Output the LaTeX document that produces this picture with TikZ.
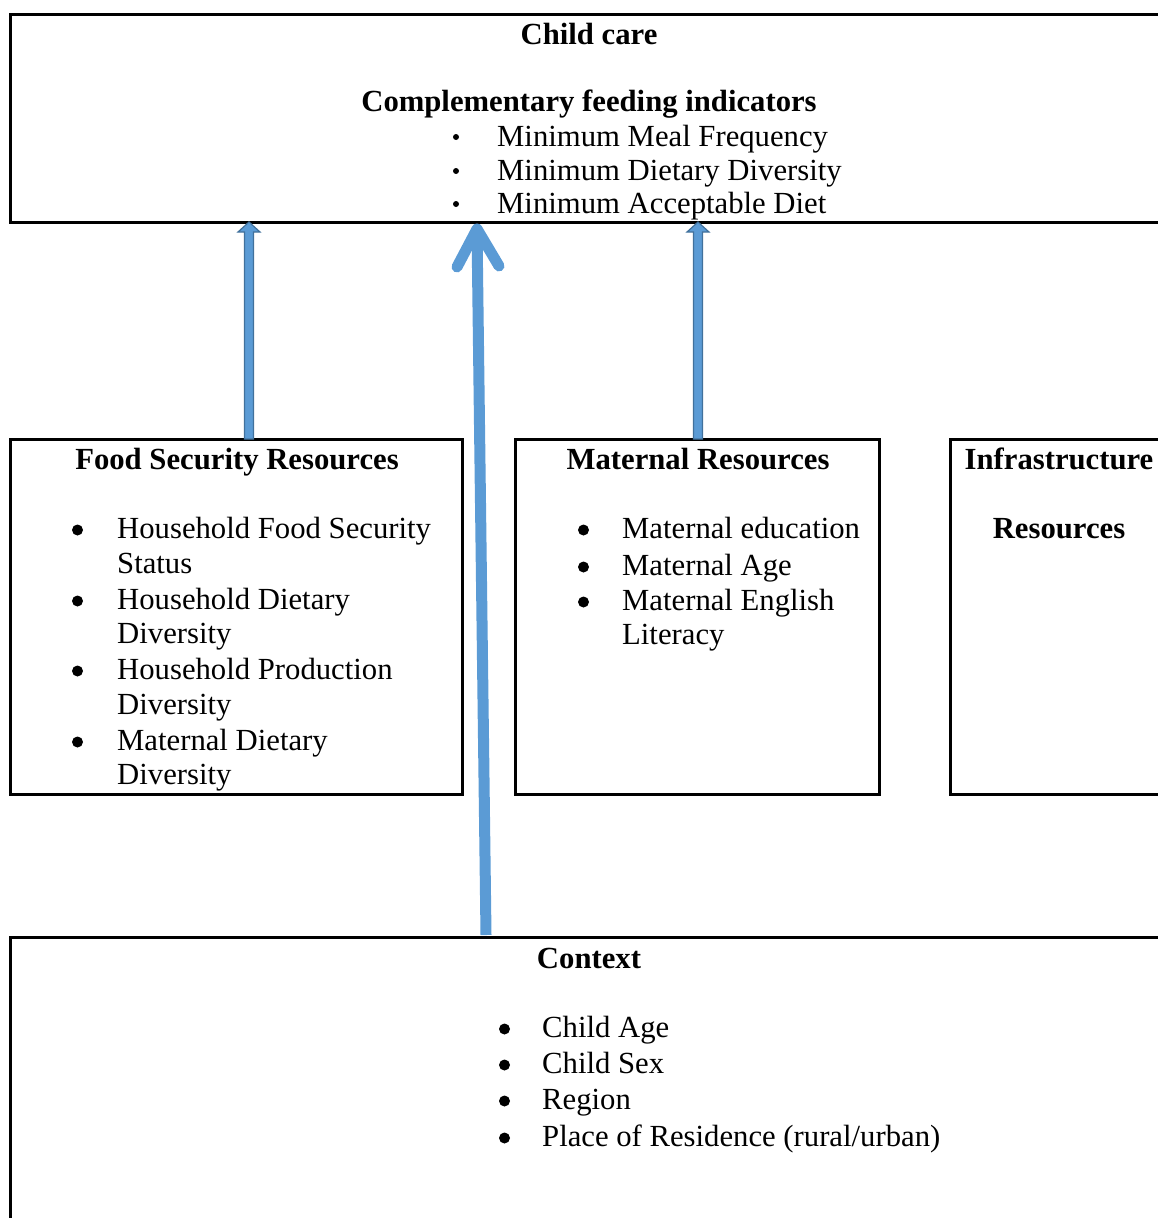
\documentclass[tikz,border=0pt]{standalone}
\usepackage{fontspec}
\setmainfont{Liberation Serif}
\usetikzlibrary{calc}
\definecolor{arrowblue}{HTML}{5B9BD5}
\definecolor{arrowedge}{HTML}{41719C}
\begin{document}
\begin{tikzpicture}[x=1pt,y=-1pt,
  box/.style={draw=black, line width=3pt, rectangle, inner sep=0pt, outer sep=0pt, anchor=north west},
  txt/.style={anchor=base west, inner sep=0pt, font=\fontsize{30.7}{35}\selectfont},
  head/.style={anchor=base, inner sep=0pt, font=\fontsize{30.7}{35}\selectfont\bfseries},
  blockarr/.style={fill=arrowblue, draw=arrowedge, line width=1.2pt, line join=miter},
  bigarr/.style={draw=arrowblue, line width=11pt}
]
\useasboundingbox (0,0) rectangle (1158,1218);
\clip (0,0) rectangle (1158,1218);

% boxes
\node[box, minimum width=1170pt, minimum height=208pt] (top) at (10,14) {};
\node[box, minimum width=452pt, minimum height=355pt] (food) at (10,439) {};
\node[box, minimum width=364pt, minimum height=355pt] (mat) at (515,439) {};
\node[box, minimum width=240pt, minimum height=355pt] (infra) at (950,439) {};
\node[box, minimum width=1170pt, minimum height=320pt] (ctx) at (10,937) {};

% top box text
\node[head] (t1) at (589,44) {Child care};
\node[head] (t2) at (589,111) {Complementary feeding indicators};
\foreach \yy in {137,171,204} \fill (456,\yy) circle (3);
\node[txt] (ti1) at (497,146) {Minimum Meal Frequency};
\node[txt] (ti2) at (497,180) {Minimum Dietary Diversity};
\node[txt] (ti3) at (497,213) {Minimum Acceptable Diet};

% food security
\node[head] (f0) at (237,469) {Food Security Resources};
\foreach \yy in {530,601,671,742} \fill (77.5,\yy) circle (5.5);
\node[txt] (f1) at (117,538) {Household Food Security};
\node[txt] (f1b) at (117,573) {Status};
\node[txt] (f2) at (117,609) {Household Dietary};
\node[txt] (f2b) at (117,643) {Diversity};
\node[txt] (f3) at (117,679) {Household Production};
\node[txt] (f3b) at (117,714) {Diversity};
\node[txt] (f4) at (117,750) {Maternal Dietary};
\node[txt] (f4b) at (117,784) {Diversity};

% maternal
\node[head] (m0) at (698,469) {Maternal Resources};
\foreach \yy in {530,567,602} \fill (583.5,\yy) circle (5.5);
\node[txt] (m1) at (622,538) {Maternal education};
\node[txt] (m2) at (622,575) {Maternal Age};
\node[txt] (m3) at (622,610) {Maternal English};
\node[txt] (m3b) at (622,644) {Literacy};

% infrastructure
\node[head] (i0) at (1059,469) {Infrastructure};
\node[head] (i1) at (1059,538) {Resources};

% context
\node[head] (c0) at (589,968) {Context};
\foreach \yy in {1029,1065,1101,1138} \fill (504.5,\yy) circle (5.5);
\node[txt] (c1) at (542,1037) {Child Age};
\node[txt] (c2) at (542,1073) {Child Sex};
\node[txt] (c3) at (542,1109) {Region};
\node[txt] (c4) at (542,1146) {Place of Residence (rural/urban)};

% connector end points
\coordinate (fb) at ($(food.north)+(13,0)$);
\coordinate (ft) at (fb |- top.south);
\coordinate (mb) at ($(mat.north)+(1,0)$);
\coordinate (mt) at (mb |- top.south);
\coordinate (cb) at ($(ctx.north)+(-109,-2)$);
\coordinate (ct) at ($(top.south)+(-118,7)$);

% block arrows
\filldraw[blockarr] ($(fb)+(-4.5,0)$) -- ($(ft)+(-4.5,10)$) -- ($(ft)+(-11,10)$) -- (ft)
  -- ($(ft)+(11,10)$) -- ($(ft)+(4.5,10)$) -- ($(fb)+(4.5,0)$) -- cycle;
\filldraw[blockarr] ($(mb)+(-4.5,0)$) -- ($(mt)+(-4.5,10)$) -- ($(mt)+(-11,10)$) -- (mt)
  -- ($(mt)+(11,10)$) -- ($(mt)+(4.5,10)$) -- ($(mb)+(4.5,0)$) -- cycle;

% big open arrow
\draw[bigarr, line cap=butt] (cb) -- (ct);
\draw[bigarr, line cap=round, line join=round] ($(ct)+(-20,38)$) -- (ct) -- ($(ct)+(22,37)$);
\end{tikzpicture}
\end{document}
